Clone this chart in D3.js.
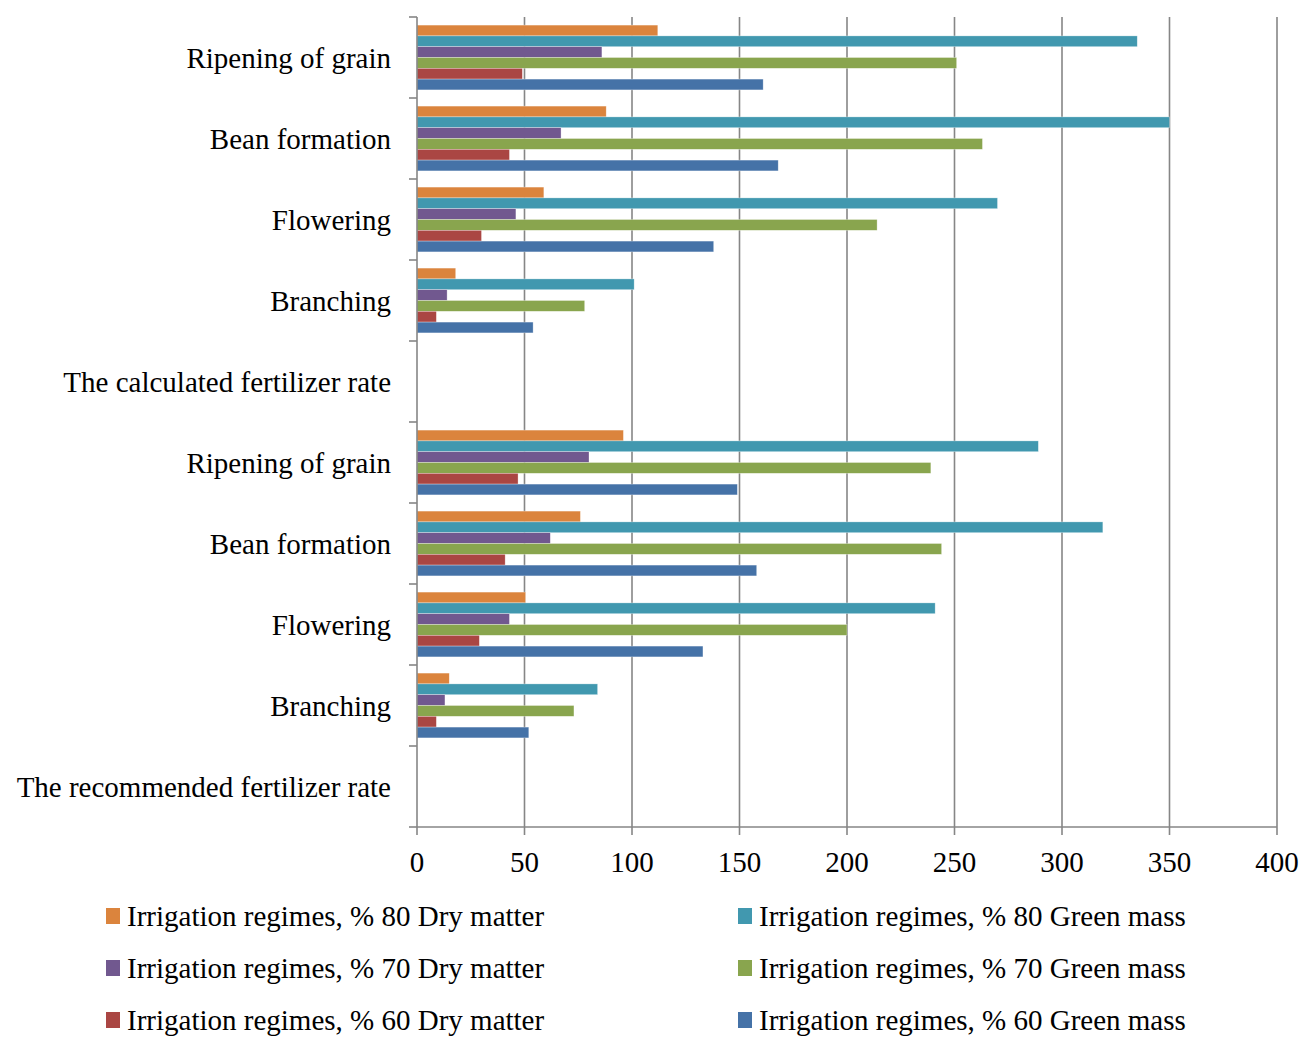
<!DOCTYPE html>
<html>
<head>
<meta charset="utf-8">
<script src="https://cdn.jsdelivr.net/npm/d3@7"></script>
<style>
  body { margin: 0; background: #fff; }
  svg text { font-family: "Liberation Serif", "Times New Roman", serif; fill: #000; }
</style>
</head>
<body>
<div id="chart"></div>
<script>
// categories, top to bottom
const categories = [
  "Ripening of grain", "Bean formation", "Flowering", "Branching",
  "The calculated fertilizer rate",
  "Ripening of grain", "Bean formation", "Flowering", "Branching",
  "The recommended fertilizer rate"
];

// series, in the order the bars appear inside a group (top to bottom)
const seriesNames = [
  "Irrigation regimes, % 80 Dry matter",
  "Irrigation regimes, % 80 Green mass",
  "Irrigation regimes, % 70 Dry matter",
  "Irrigation regimes, % 70 Green mass",
  "Irrigation regimes, % 60 Dry matter",
  "Irrigation regimes, % 60 Green mass"
];
const seriesColors = ["#DB843D", "#4198AF", "#71588F", "#89A54E", "#AA4643", "#4572A7"];

// values per category (null = no bar)
const dry80   = [112, 88, 59, 18, null, 96, 76, 50.5, 15, null];
const green80 = [335, 350, 270, 101, null, 289, 319, 241, 84, null];
const dry70   = [86, 67, 46, 14, null, 80, 62, 43, 13, null];
const green70 = [251, 263, 214, 78, null, 239, 244, 200, 73, null];
const dry60   = [49, 43, 30, 9, null, 47, 41, 29, 9, null];
const green60 = [161, 168, 138, 54, null, 149, 158, 133, 52, null];

const xTicks = [0, 50, 100, 150, 200, 250, 300, 350, 400];

const seriesValues = [dry80, green80, dry70, green70, dry60, green60];

const width = 1303, height = 1037;
const plot = { left: 417, right: 1277, top: 17, bottom: 827 };
const fontSize = 29;

const svg = d3.select("#chart").append("svg")
  .attr("width", width)
  .attr("height", height);

const x = d3.scaleLinear().domain([0, 400]).range([plot.left, plot.right]);
const y = d3.scaleBand().domain(d3.range(categories.length)).range([plot.top, plot.bottom]);
const inner = d3.scaleBand().domain(d3.range(seriesNames.length))
  .range([0, y.bandwidth()]).paddingInner(0).paddingOuter(0.75);

// vertical gridlines
svg.append("g").selectAll("line")
  .data(xTicks.slice(1))
  .enter().append("line")
  .attr("x1", d => x(d)).attr("x2", d => x(d))
  .attr("y1", plot.top).attr("y2", plot.bottom)
  .attr("stroke", "#868686")
  .attr("stroke-width", 1.6);

// bars
categories.forEach((c, ci) => {
  seriesValues.forEach((vals, si) => {
    const v = vals[ci];
    if (v == null) return;
    svg.append("rect")
      .attr("x", x(0))
      .attr("y", y(ci) + inner(si))
      .attr("width", x(v) - x(0))
      .attr("height", inner.bandwidth())
      .attr("fill", seriesColors[si])
      .attr("stroke", "#ffffff")
      .attr("stroke-opacity", 0.5)
      .attr("stroke-width", 0.6);
  });
});

// left axis
const yAxis = svg.append("g");
yAxis.append("line")
  .attr("x1", plot.left).attr("x2", plot.left)
  .attr("y1", plot.top).attr("y2", plot.bottom)
  .attr("stroke", "#868686").attr("stroke-width", 1.6);
yAxis.selectAll("line.tick")
  .data(d3.range(categories.length + 1))
  .enter().append("line")
  .attr("class", "tick")
  .attr("x1", plot.left - 8).attr("x2", plot.left)
  .attr("y1", d => d < categories.length ? y(d) : plot.bottom)
  .attr("y2", d => d < categories.length ? y(d) : plot.bottom)
  .attr("stroke", "#868686").attr("stroke-width", 1.6);
yAxis.selectAll("text")
  .data(categories)
  .enter().append("text")
  .attr("x", 391)
  .attr("y", (d, i) => y(i) + y.bandwidth() / 2)
  .attr("dy", "0.35em")
  .attr("text-anchor", "end")
  .attr("font-size", fontSize)
  .text(d => d);

// bottom axis
const xAxis = svg.append("g");
xAxis.append("line")
  .attr("x1", plot.left).attr("x2", plot.right)
  .attr("y1", plot.bottom).attr("y2", plot.bottom)
  .attr("stroke", "#868686").attr("stroke-width", 1.6);
xAxis.selectAll("line.tick")
  .data(xTicks)
  .enter().append("line")
  .attr("class", "tick")
  .attr("x1", d => x(d)).attr("x2", d => x(d))
  .attr("y1", plot.bottom).attr("y2", plot.bottom + 8)
  .attr("stroke", "#868686").attr("stroke-width", 1.6);
xAxis.selectAll("text")
  .data(xTicks)
  .enter().append("text")
  .attr("x", d => x(d))
  .attr("y", 862)
  .attr("dy", "0.35em")
  .attr("text-anchor", "middle")
  .attr("font-size", fontSize)
  .text(d => d);

// legend: two columns, three rows
const legend = svg.append("g");
seriesNames.forEach((name, i) => {
  const col = i % 2, row = Math.floor(i / 2);
  const lx = col === 0 ? 106 : 738;
  const ly = 916 + row * 52;
  legend.append("rect")
    .attr("x", lx).attr("y", ly - 8)
    .attr("width", 14).attr("height", 16)
    .attr("fill", seriesColors[i]);
  legend.append("text")
    .attr("x", lx + 21).attr("y", ly)
    .attr("dy", "0.33em")
    .attr("font-size", fontSize)
    .text(name);
});
</script>
</body>
</html>
